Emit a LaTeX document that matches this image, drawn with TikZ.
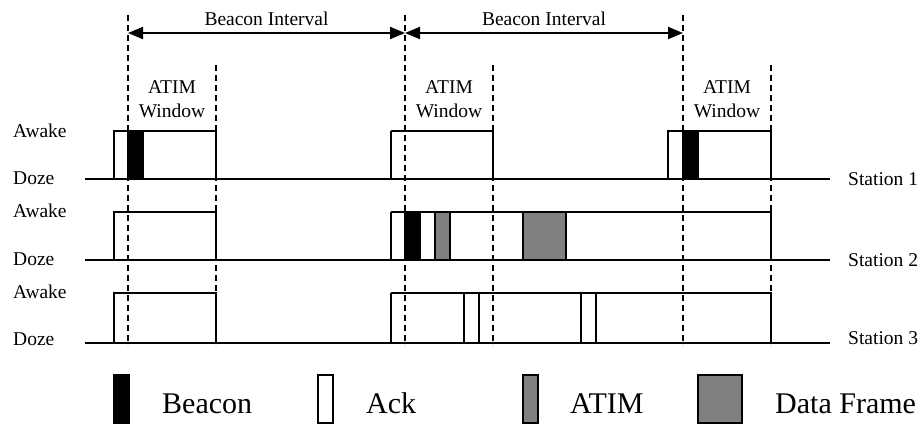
\documentclass[tikz,border=0pt]{standalone}
\usepackage{fontspec}
\setmainfont{Liberation Serif}
\usetikzlibrary{arrows.meta}
\definecolor{pktgray}{RGB}{128,128,128}
\begin{document}
\begin{tikzpicture}[x=1pt,y=-1pt,
  smalltxt/.style={font=\fontsize{19.5}{22}\selectfont, inner sep=0pt},
  legtxt/.style={font=\fontsize{30}{34}\selectfont, inner sep=0pt, anchor=base west},
  awakeline/.style={line width=2pt, line join=miter},
  guideline/.style={line width=2pt, dash pattern=on 6pt off 4pt},
  pktbox/.style={draw, line width=2pt},
  beaconpkt/.style={pktbox, fill=black},
  ackpkt/.style={pktbox, fill=white},
  atimpkt/.style={pktbox, fill=pktgray},
  intervalarrow/.style={line width=2pt,
    {Triangle[length=15pt,width=12pt]}-{Triangle[length=15pt,width=12pt]}}
]
\useasboundingbox (0,0) rectangle (924,424);

% ---- awake periods (outlines) and doze baselines ----
\foreach \yd/\ya in {179/131, 260/212, 343/293}{
  \draw[awakeline] (85,\yd) -- (830,\yd);
  \draw[awakeline] (114,\yd) -- (114,\ya) -- (216,\ya) -- (216,\yd);
  \draw[awakeline] (391,\yd) -- (391,\ya);
}
% station 1: short awake periods
\draw[awakeline] (391,131) -- (493,131) -- (493,179);
\draw[awakeline] (668,179) -- (668,131) -- (771,131) -- (771,179);
% stations 2 and 3: stay awake through the interval
\draw[awakeline] (391,212) -- (771,212) -- (771,260);
\draw[awakeline] (391,293) -- (771,293) -- (771,343);

% ---- beacon and ATIM window boundaries ----
\foreach \n/\x in {1/128, 2/405, 3/683}{
  \coordinate (bt\n) at (\x,15);
  \coordinate (bb\n) at (\x,345);
  \coordinate (ba\n) at (\x,33);
  \draw[guideline] (bt\n) -- (bb\n);
}
\foreach \n/\x in {1/216, 2/493, 3/771}{
  \coordinate (wt\n) at (\x,65);
  \coordinate (wb\n) at (\x,345);
  \draw[guideline] (wt\n) -- (wb\n);
}

% ---- beacon interval arrows ----
\draw[intervalarrow] (ba1) -- (ba2);
\draw[intervalarrow] (ba2) -- (ba3);
\node[smalltxt, anchor=base] (bi1) at (266.5,25) {Beacon Interval};
\node[smalltxt, anchor=base] (bi2) at (544,25) {Beacon Interval};

% ---- ATIM window labels ----
\foreach \n/\x in {1/172, 2/449, 3/727}{
  \node[smalltxt, anchor=base] (aw\n) at (\x,93) {ATIM};
  \node[smalltxt, anchor=base] (wn\n) at (\x,117) {Window};
}

% ---- frames ----
\draw[beaconpkt] (128,131) rectangle (143,179);
\draw[beaconpkt] (683,131) rectangle (698,179);
\draw[beaconpkt] (405,212) rectangle (420,260);
\draw[atimpkt] (435,212) rectangle (450,260);
\draw[atimpkt] (523,212) rectangle (566,260);
\draw[ackpkt] (464,293) rectangle (479,343);
\draw[ackpkt] (581,293) rectangle (596,343);

% ---- state labels ----
\foreach \n/\ya/\yd in {1/137/184, 2/217/265, 3/298/345}{
  \node[smalltxt, anchor=base west] (awake\n) at (13,\ya) {Awake};
  \node[smalltxt, anchor=base west] (doze\n) at (13,\yd) {Doze};
}
\node[smalltxt, anchor=base west] (st1) at (848,185) {Station 1};
\node[smalltxt, anchor=base west] (st2) at (848,266) {Station 2};
\node[smalltxt, anchor=base west] (st3) at (848,344) {Station 3};

% ---- legend ----
\draw[beaconpkt] (114,375) rectangle (129,423);
\node[legtxt] (lgb) at (162,413) {Beacon};
\draw[ackpkt] (318,375) rectangle (333,423);
\node[legtxt] (lga) at (366,413) {Ack};
\draw[atimpkt] (523,375) rectangle (538,423);
\node[legtxt] (lgt) at (570,413) {ATIM};
\draw[atimpkt] (698,375) rectangle (742,423);
\node[legtxt] (lgd) at (775,413) {Data Frame};
\end{tikzpicture}
\end{document}
